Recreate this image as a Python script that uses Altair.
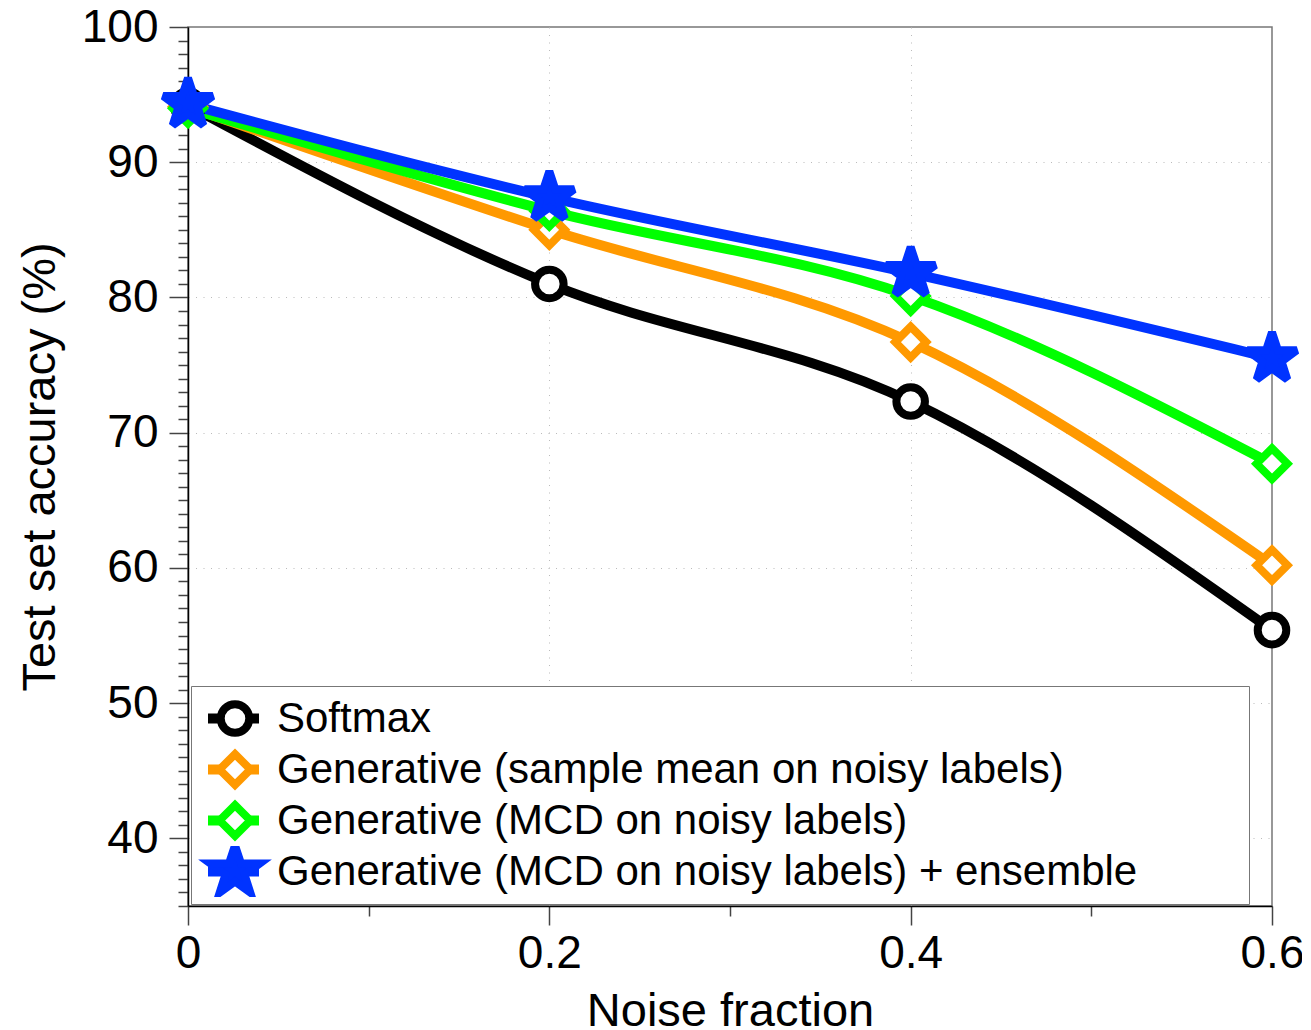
import math
import altair as alt
import pandas as pd

FONT = "Liberation Sans"

# ---- data ----
noise = [0, 0.2, 0.4, 0.6]
softmax = [94.2, 81.0, 72.3, 55.4]
gen_mean = [94.1, 85.0, 76.7, 60.2]
gen_mcd = [94.0, 86.4, 80.1, 67.7]
gen_ens = [94.3, 87.4, 81.8, 75.5]

series = [
    "Softmax",
    "Generative (sample mean on noisy labels)",
    "Generative (MCD on noisy labels)",
    "Generative (MCD on noisy labels) + ensemble",
]
colors = ["#000000", "#FF9900", "#00FF00", "#0033FF"]
fills = ["#FFFFFF", "#FFFFFF", "#FFFFFF", "#0033FF"]

y_ticks = list(range(35, 101))
x_ticks = [0, 0.1, 0.2, 0.3, 0.4, 0.5, 0.6]

rows = []
for name, vals in zip(series, [softmax, gen_mean, gen_mcd, gen_ens]):
    for x, v in zip(noise, vals):
        rows.append({"noise": x, "acc": v, "series": name, "name": name})
df = pd.DataFrame(rows)


# ---- marker shapes (unit paths, scaled by Vega) ----
def star_path(R, r):
    pts = []
    for i in range(10):
        ang = math.radians(-90 + 36 * i)
        rad = R if i % 2 == 0 else r
        pts.append(f"{rad * math.cos(ang):.4f},{rad * math.sin(ang):.4f}")
    return "M" + " L".join(pts) + " Z"


circle_path = "M0.51,0 A0.51,0.51 0 1,1 -0.51,0 A0.51,0.51 0 1,1 0.51,0 Z"
diamond_path = "M0,-0.55 L0.55,0 L0,0.55 L-0.55,0 Z"
shapes = [circle_path, diamond_path, diamond_path, star_path(0.93, 0.36)]

x_axis = alt.Axis(
    values=x_ticks,
    tickSize={"condition": {"test": "round(datum.value*10) % 2 === 0", "value": 19}, "value": 10},
    labelExpr="round(datum.value*10) % 2 === 0 ? format(datum.value, '~g') : ''",
    grid=True,
    gridOpacity={"condition": {"test": "round(datum.value*10) == 2 || round(datum.value*10) == 4", "value": 1}, "value": 0},
    gridDash=[1, 6.5],
    gridColor="#BBBBBB",
    gridWidth=1,
    domainColor="#000000",
    domainWidth=1.5,
    tickColor="#444444",
    tickWidth=1.5,
    labelFont=FONT,
    labelFontSize=46,
    labelColor="#000000",
    labelPadding=6,
    labelOverlap=False,
    labelFlush=False,
    title="Noise fraction",
    titleFont=FONT,
    titleFontSize=47,
    titleFontWeight="normal",
    titleColor="#000000",
    titlePadding=12,
)

y_axis = alt.Axis(
    values=y_ticks,
    tickSize={"condition": {"test": "datum.value % 10 === 0", "value": 19}, "value": 10},
    labelExpr="datum.value % 10 === 0 ? format(datum.value, 'd') : ''",
    grid=True,
    gridOpacity={"condition": {"test": "datum.value % 10 === 0 && datum.value > 35 && datum.value < 100", "value": 1}, "value": 0},
    gridDash=[1, 6.5],
    gridColor="#BBBBBB",
    gridWidth=1,
    domainColor="#000000",
    domainWidth=1.5,
    tickColor="#444444",
    tickWidth=1.5,
    labelFont=FONT,
    labelFontSize=46,
    labelColor="#000000",
    labelPadding=11,
    labelOverlap=False,
    labelFlush=False,
    title="Test set accuracy (%)",
    titleFont=FONT,
    titleFontSize=47,
    titleFontWeight="normal",
    titleColor="#000000",
    titlePadding=17,
)

x_enc = alt.X("noise:Q", scale=alt.Scale(domain=[0, 0.6], nice=False, zero=False), axis=x_axis)
y_enc = alt.Y("acc:Q", scale=alt.Scale(domain=[35, 100], nice=False, zero=False), axis=y_axis)

PAD = "\u2800\u2800 \u2800"  # blank (non-trimmed) padding that widens the legend box

line_legend = alt.Legend(
    title=None,
    orient="none",
    legendX=3,
    legendY=659,
    padding=7,
    symbolType="stroke",
    symbolSize=2601,
    symbolStrokeWidth=10,
    symbolOffset=5,
    labelOffset=13,
    labelFont=FONT,
    labelFontSize=42,
    labelColor="#000000",
    labelLimit=2000,
    labelExpr="datum.label + '" + PAD + "'",
    rowPadding=0,
    clipHeight=51,
    fillColor="#FFFFFF",
    strokeColor="#777777",
)

pt_legend = alt.Legend(
    title=None,
    orient="none",
    legendX=3,
    legendY=659,
    padding=7,
    symbolSize=3136,
    symbolStrokeWidth=8,
    symbolOffset=5,
    labelOffset=20,
    labelFont=FONT,
    labelFontSize=42,
    labelOpacity=0,
    labelLimit=2000,
    rowPadding=0,
    clipHeight=51,
)

lines = alt.Chart(df).mark_line(interpolate="monotone", strokeWidth=10).encode(
    x=x_enc,
    y=y_enc,
    color=alt.Color("series:N", sort=series, scale=alt.Scale(range=colors), legend=line_legend),
)

points = alt.Chart(df).mark_point(
    filled=True, size=3136, strokeWidth=8, opacity=1, strokeMiterLimit=2
).encode(
    x=x_enc,
    y=y_enc,
    shape=alt.Shape("name:N", scale=alt.Scale(domain=series, range=shapes), legend=pt_legend),
    fill=alt.Fill("name:N", scale=alt.Scale(domain=series, range=fills), legend=pt_legend),
    stroke=alt.Stroke("name:N", scale=alt.Scale(domain=series, range=colors), legend=pt_legend),
)

chart = (
    alt.layer(lines, points)
    .properties(
        width=1084,
        height=879,
        autosize=alt.AutoSizeParams(type="none"),
        padding={"left": 180, "top": 19, "right": 30, "bottom": 130},
    )
    .configure(font=FONT)
    .configure_view(stroke="#777777", strokeWidth=1.5)
)

chart.save("out.html", embed_options={"renderer": "svg", "actions": False})
